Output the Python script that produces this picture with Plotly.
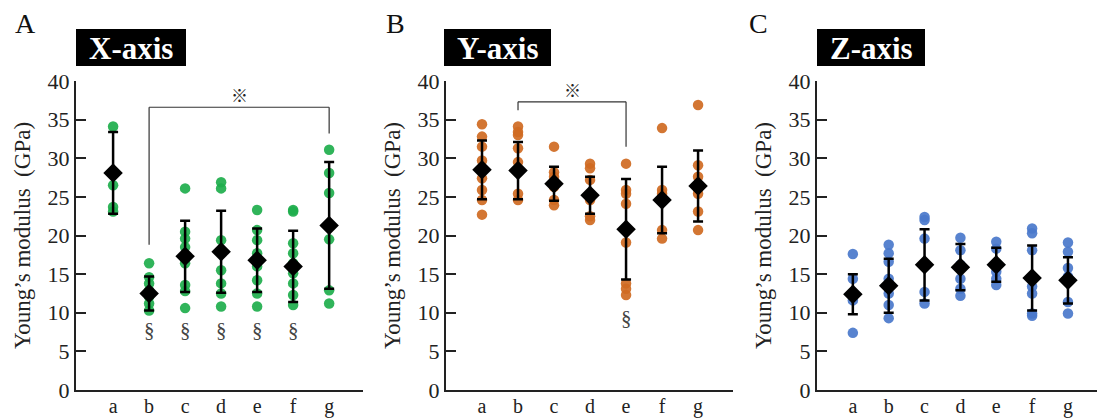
import plotly.graph_objects as go

categories = ["a", "b", "c", "d", "e", "f", "g"]

# Panel A: X-axis individual values
x_axis_points = [
    [34.1, 26.5, 23.7, 23.1],
    [16.4, 14.6, 13.8, 12.9, 12.1, 11.2, 10.3],
    [26.1, 20.5, 19.6, 18.5, 16.4, 13.6, 12.8, 10.6],
    [26.9, 26.1, 19.4, 17.7, 15.5, 13.8, 12.5, 10.8],
    [23.3, 20.7, 19.4, 17.7, 16.0, 14.2, 12.5, 10.8],
    [23.3, 23.1, 19.0, 17.7, 16.4, 15.1, 13.8, 12.3, 11.0],
    [31.1, 28.1, 25.5, 19.5, 12.9, 11.2],
]
x_axis_mean = [28.1, 12.5, 17.3, 17.9, 16.8, 16.0, 21.3]
x_axis_sd = [5.3, 2.2, 4.6, 5.3, 4.1, 4.6, 8.2]

# Panel B: Y-axis individual values
y_axis_points = [
    [34.4, 32.8, 31.5, 29.7, 28.7, 27.4, 25.9, 24.6, 22.7],
    [34.1, 33.4, 33.0, 31.3, 29.5, 28.2, 25.4, 24.6],
    [31.5, 28.2, 27.6, 26.3, 24.6, 23.9],
    [29.3, 28.7, 27.2, 25.4, 24.6, 22.5, 22.0],
    [29.3, 25.9, 25.4, 24.1, 19.1, 13.8, 13.1, 12.3],
    [33.9, 25.9, 25.4, 20.7, 19.6],
    [36.9, 29.1, 27.6, 26.1, 25.4, 23.1, 20.7],
]
y_axis_mean = [28.5, 28.4, 26.7, 25.2, 20.8, 24.6, 26.4]
y_axis_sd = [3.8, 3.7, 2.2, 2.4, 6.5, 4.3, 4.6]

# Panel C: Z-axis individual values
z_axis_points = [
    [17.6, 14.4, 12.3, 11.6, 7.4],
    [18.8, 17.7, 16.6, 14.4, 13.4, 12.5, 11.0, 9.3],
    [22.4, 22.0, 19.6, 16.0, 12.7, 11.2],
    [19.7, 18.1, 16.2, 14.4, 13.1, 12.2],
    [19.2, 18.3, 16.4, 15.3, 14.4, 13.6],
    [20.9, 20.3, 18.1, 14.4, 13.4, 12.5, 9.9, 9.6],
    [19.1, 17.9, 15.8, 14.7, 11.4, 9.9],
]
z_axis_mean = [12.4, 13.5, 16.2, 15.9, 16.2, 14.5, 14.2]
z_axis_sd = [2.6, 3.5, 4.6, 3.0, 2.2, 4.2, 3.0]

panel_letters = ["A", "B", "C"]
panel_titles = ["X-axis", "Y-axis", "Z-axis"]
y_ticks = [0, 5, 10, 15, 20, 25, 30, 35, 40]

# Significance brackets: (panel, from cat, to cat, top, left drop, right drop)
brackets = [
    (0, "b", "g", 36.6, 18.8, 33.2),
    (1, "b", "e", 37.3, 36.2, 31.5),
]
section_marks = [
    (0, ["b", "c", "d", "e", "f"], 7.8),
    (1, ["e"], 9.3),
]

colors = ["#1eae4c", "#cf6a22", "#4a78cb"]
panels = [
    (x_axis_points, x_axis_mean, x_axis_sd),
    (y_axis_points, y_axis_mean, y_axis_sd),
    (z_axis_points, z_axis_mean, z_axis_sd),
]

W, H = 1097, 419
x_domains = [[76 / W, 363 / W], [446 / W, 733 / W], [817 / W, 1.0]]
x_ranges = [[-1.03, 6.94], [-1.0, 6.97], [-1.0, 6.81]]
y_domain = [1 - 390 / H, 1 - 81 / H]
box_px = [(76, 186), (444, 551), (817, 925)]
letter_px = [25, 395, 758]

SERIF = "Liberation Serif, Times New Roman, serif"

fig = go.Figure()

for i, (pts, mean, sd) in enumerate(panels):
    xa = "x" if i == 0 else f"x{i+1}"
    ya = "y" if i == 0 else f"y{i+1}"
    xs, ys = [], []
    for c, vals in zip(categories, pts):
        for v in vals:
            xs.append(c)
            ys.append(v)
    fig.add_trace(go.Scatter(
        x=xs, y=ys, mode="markers", xaxis=xa, yaxis=ya,
        marker=dict(color=colors[i], size=10.5, opacity=0.92),
        showlegend=False, hoverinfo="y",
    ))
    fig.add_trace(go.Scatter(
        x=categories, y=mean, mode="markers", xaxis=xa, yaxis=ya,
        marker=dict(symbol="diamond", color="black", size=15),
        error_y=dict(type="data", array=sd, visible=True, color="black",
                     thickness=2.5, width=5),
        showlegend=False,
    ))

layout = dict(
    width=W, height=H,
    margin=dict(l=0, r=0, t=0, b=0),
    paper_bgcolor="white", plot_bgcolor="white",
    font=dict(family=SERIF, color="#222", size=22),
)
for i in range(3):
    sfx = "" if i == 0 else str(i + 1)
    layout[f"xaxis{sfx}"] = dict(
        domain=x_domains[i], type="category", categoryorder="array",
        categoryarray=categories, range=x_ranges[i],
        showline=True, linecolor="#222", linewidth=2, ticks="",
        showgrid=False, zeroline=False, anchor=f"y{sfx}",
        tickfont=dict(family=SERIF, size=20, color="#222"),
        ticklabelstandoff=-3,
        automargin=False,
    )
    layout[f"yaxis{sfx}"] = dict(
        domain=y_domain, range=[0, 40], tickvals=y_ticks,
        showline=True, linecolor="#222", linewidth=2,
        ticks="inside", ticklen=10, tickwidth=1.5, tickcolor="#222",
        showgrid=False, zeroline=False, anchor=f"x{sfx}",
        tickfont=dict(family=SERIF, size=22, color="#222"),
        title=dict(text="Young’s modulus  (GPa)", standoff=11,
                   font=dict(family=SERIF, size=23, color="#222")),
        automargin=False,
    )
fig.update_layout(**layout)

shapes = []
annotations = []
for i in range(3):
    x0, x1 = box_px[i]
    shapes.append(dict(type="rect", xref="paper", yref="paper",
                       x0=x0 / W, x1=x1 / W, y0=1 - 66 / H, y1=1 - 29 / H,
                       fillcolor="black", line=dict(width=0)))
    annotations.append(dict(xref="paper", yref="paper", x=(x0 + x1) / 2 / W,
                            y=1 - 48 / H, text=f"<b>{panel_titles[i]}</b>",
                            showarrow=False, xanchor="center", yanchor="middle",
                            font=dict(family=SERIF, size=31, color="white")))
    annotations.append(dict(xref="paper", yref="paper", x=letter_px[i] / W,
                            y=1 - 23 / H, text=panel_letters[i], showarrow=False,
                            xanchor="center", yanchor="middle",
                            font=dict(family=SERIF, size=28, color="#111")))

for p, c0, c1, top, d0, d1 in brackets:
    sfx = "" if p == 0 else str(p + 1)
    xr, yr = f"x{sfx}", f"y{sfx}"
    for xa0, ya0, xa1, ya1 in [(c0, d0, c0, top), (c0, top, c1, top), (c1, top, c1, d1)]:
        shapes.append(dict(type="line", xref=xr, yref=yr, x0=xa0, y0=ya0,
                           x1=xa1, y1=ya1, line=dict(color="#333", width=1.2)))
    mid = (categories.index(c0) + categories.index(c1)) / 2
    annotations.append(dict(xref=xr, yref=yr, x=mid, y=top, text="※",
                            showarrow=False, yanchor="bottom", yshift=-2,
                            font=dict(family="Noto Sans CJK JP", size=17, color="#222")))

for p, cats, yv in section_marks:
    sfx = "" if p == 0 else str(p + 1)
    for c in cats:
        annotations.append(dict(xref=f"x{sfx}", yref=f"y{sfx}", x=c, y=yv,
                                text="§", showarrow=False, yanchor="middle",
                                font=dict(family=SERIF, size=21, color="#444")))

fig.update_layout(shapes=shapes, annotations=annotations)
fig.write_html(
    "out.html",
    config={"displayModeBar": False},
    post_script="document.body.style.margin='0';document.body.style.overflow='hidden';",
)
